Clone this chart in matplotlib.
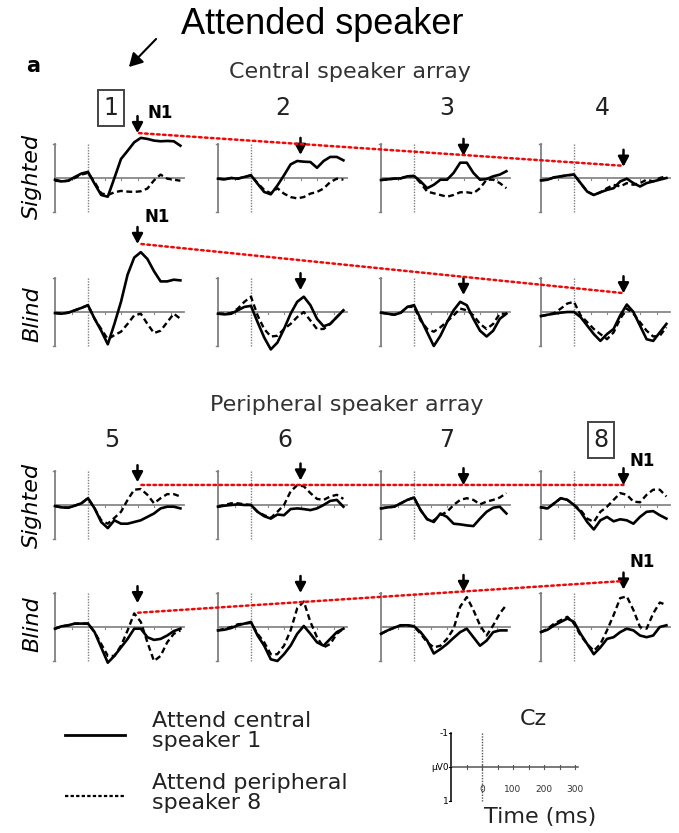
import matplotlib
matplotlib.use("Agg")
import matplotlib.pyplot as plt
from matplotlib.patches import ConnectionPatch, FancyArrowPatch

# time axis of every waveform (ms), amplitude in microvolts (negative up)
time_ms = [-100, -80, -60, -40, -20, 0, 20, 40, 60, 80, 100, 120, 140, 160, 180, 200, 220, 240, 260, 280]

# central speaker array, sighted (speakers 1-4)
central_sighted_solid = [
    [.05, .1, .08, -.03, -.13, -.18, .17, .5, .55, 0, -.56, -.8, -1.05, -1.18, -1.15, -1.1, -1.08, -1.09, -1.08, -.95],
    [.02, .04, 0, .02, -.03, -.08, .17, .41, .48, .22, -.08, -.4, -.5, -.48, -.47, -.3, -.5, -.62, -.62, -.52],
    [.06, .04, .02, .01, -.05, -.06, .1, .3, .2, .05, .05, -.15, -.45, -.45, -.15, .05, .03, -.05, -.1, -.2],
    [.07, .05, -.02, -.05, -.08, -.1, .15, .4, .5, .42, .35, .3, .1, .02, .15, .25, .15, .1, .05, 0],
]
central_sighted_dashed = [
    [.08, .1, .08, 0, -.1, -.15, .12, .45, .5, .42, .38, .4, .41, .39, .31, .07, -.1, .02, .05, .08],
    [.02, .04, 0, .02, -.03, -.08, .15, .35, .45, .3, .46, .56, .6, .56, .46, .41, .31, .12, .02, .05],
    [.06, .04, .02, .01, -.05, -.06, .15, .4, .45, .5, .55, .5, .42, .42, .45, .3, .05, .05, .15, .3],
    [.07, .05, -.02, -.05, -.08, -.1, .15, .4, .5, .42, .3, .2, .25, .15, .2, .15, .05, .1, 0, -.05],
]

# central speaker array, blind
central_blind_solid = [
    [.03, .05, .02, -.05, -.12, -.2, .2, .55, .95, .35, -.3, -1.1, -1.6, -1.76, -1.56, -1.2, -.9, -.9, -.95, -.93],
    [.05, .07, .05, -.05, -.15, -.18, .3, .75, 1.1, .9, .5, .05, -.3, -.45, -.2, .2, .42, .35, .15, -.05],
    [.02, .05, .08, .02, -.15, -.2, .2, .6, 1.0, .7, .3, -.05, -.3, -.2, .2, .55, .72, .55, .2, .05],
    [.12, .08, .05, .02, 0, 0, .15, .4, .65, .85, .65, .5, .1, -.22, 0, .4, .8, .85, .6, .35],
]
central_blind_dashed = [
    [.03, .05, .02, -.05, -.12, -.2, .2, .5, .8, .68, .58, .35, .1, .05, .35, .62, .55, .3, .05, .2],
    [.05, .05, .03, -.1, -.3, -.45, .1, .5, .72, .7, .5, .35, .15, 0, .25, .5, .5, .35, .15, -.05],
    [.02, .05, .08, .02, -.15, -.15, .25, .5, .58, .45, .28, .1, -.1, -.05, .1, .35, .5, .35, .05, .05],
    [.12, .08, .03, -.1, -.25, -.3, .1, .3, .5, .65, .8, .6, .2, -.1, .05, .3, .55, .72, .7, .45],
]

# peripheral speaker array, sighted (speakers 5-8)
peripheral_sighted_solid = [
    [.03, .07, .08, .02, -.05, -.2, .1, .5, .68, .45, .55, .55, .5, .45, .35, .25, .1, .05, .05, .1],
    [.05, .02, 0, -.02, 0, 0, .2, .33, .4, .28, .3, .12, .1, .12, .15, .1, 0, -.12, -.15, .05],
    [.1, .07, .05, -.05, -.15, -.22, .15, .42, .5, .25, .35, .55, .57, .6, .62, .4, .2, .08, .05, .25],
    [.07, .1, -.05, -.2, -.15, 0, .2, .5, .72, .45, .35, .48, .42, .45, .55, .35, .2, .18, .3, .4],
]
peripheral_sighted_dashed = [
    [.03, .07, .08, .02, -.05, -.2, .1, .45, .55, .38, .2, -.15, -.45, -.47, -.3, -.05, -.2, -.32, -.32, -.25],
    [.05, 0, -.05, -.05, -.02, 0, .2, .3, .38, .2, 0, -.4, -.58, -.55, -.35, -.18, -.15, -.25, -.3, -.18],
    [.1, .07, .05, -.05, -.15, -.22, .15, .42, .45, .3, .2, 0, -.15, -.2, -.15, -.02, -.1, -.15, -.22, -.35],
    [.07, .1, -.05, -.2, -.15, 0, .15, .4, .5, .2, .05, -.15, -.35, -.3, -.1, -.08, -.3, -.45, -.45, -.25],
]

# peripheral speaker array, blind
peripheral_blind_solid = [
    [.05, -.02, -.05, -.1, -.1, -.1, .15, .6, 1.05, .85, .6, .35, .05, .05, .3, .38, .35, .25, .12, .05],
    [.1, .08, .03, -.05, -.1, -.15, .25, .55, .95, 1.0, .8, .55, .2, -.03, .2, .45, .55, .35, .15, .05],
    [.2, .1, .02, -.05, -.05, -.02, .15, .4, .78, .65, .5, .32, .15, .05, .3, .55, .4, .15, .1, .1],
    [.15, .08, -.05, -.15, -.25, -.15, .2, .5, .8, .6, .35, .3, .15, .05, .1, .25, .3, .25, 0, -.05],
]
peripheral_blind_dashed = [
    [.05, -.02, -.05, -.1, -.1, -.1, .15, .5, .85, .85, .55, .1, -.4, -.15, .45, 1.0, .85, .45, .2, .1],
    [.1, .05, 0, -.08, -.1, -.12, .2, .45, .8, .8, .55, .1, -.55, -.75, -.15, .3, .6, .5, .2, .05],
    [.2, .1, .02, -.05, -.05, -.02, .2, .45, .6, .55, .35, .05, -.6, -.88, -.5, -.05, .25, -.05, -.4, -.65],
    [.15, .05, -.1, -.2, -.3, -.1, .25, .5, .7, .5, .1, -.35, -.85, -.9, -.5, 0, .05, -.4, -.72, -.65],
]

# N1 arrows (latency and tip amplitude) per panel
n1_latency = 150
central_sighted_n1 = [-1.32, -0.68, -0.65, -0.33]
central_blind_n1 = [-2.0, -0.64, -0.5, -0.55]
peripheral_sighted_n1 = [-0.67, -0.72, -0.58, -0.58]
peripheral_blind_n1 = [-0.7, -1.0, -1.03, -1.1]

# red dotted line that joins first and last panel of each row: (ms, uV)
central_sighted_link = [(155, -1.32), (148, -0.36)]
central_blind_link = [(162, -2.0), (145, -0.56)]
peripheral_sighted_link = [(162, -0.59), (150, -0.59)]
peripheral_blind_link = [(152, -0.42), (145, -1.35)]

speaker_top = ['1', '2', '3', '4']
speaker_bottom = ['5', '6', '7', '8']
scale_ticks = [0, 100, 200, 300]

W, H = 679, 833
fig = plt.figure(figsize=(W / 100, H / 100), dpi=100)
fig.patch.set_facecolor('white')
plt.rcParams['font.family'] = ['DejaVu Sans']


def fx(px):
    return px / W


def fy(py):
    return 1 - py / H


# pixel layout of the panels
col_axis_px = [55, 218, 381, 541]
row_base_px = [178, 312, 505, 627]
ms_px = 0.33      # pixels per ms
uv_px = 34.0      # pixels per microvolt
x_lo, x_hi = -115, 300
y_lim = 2.3


def make_panel(col, row):
    left = col_axis_px[col] + (x_lo + 100) * ms_px
    width = (x_hi - x_lo) * ms_px
    height = 2 * y_lim * uv_px
    top = row_base_px[row] - y_lim * uv_px
    ax = fig.add_axes([fx(left), fy(top + height), fx(width), height / H])
    ax.set_xlim(x_lo, x_hi)
    ax.set_ylim(y_lim, -y_lim)
    ax.axis('off')
    ax.patch.set_alpha(0)
    # axes of the ERP plot
    ax.plot([-100, -100], [-1, 1], color='#808080', lw=1.3)
    ax.plot([-107, -100], [-1, -1], color='#808080', lw=1)
    ax.plot([-107, -100], [1, 1], color='#808080', lw=1)
    ax.plot([0, 0], [-1, 1], color='#808080', lw=1, ls=(0, (1, 1)))
    ax.plot([-100, 290], [0, 0], color='#888888', lw=1.3)
    for tk in [-50, 50, 100, 150, 200, 250]:
        ax.plot([tk, tk], [0, 0.06], color='#888888', lw=0.8)
    return ax


rows = [
    (central_sighted_solid, central_sighted_dashed, central_sighted_n1, central_sighted_link),
    (central_blind_solid, central_blind_dashed, central_blind_n1, central_blind_link),
    (peripheral_sighted_solid, peripheral_sighted_dashed, peripheral_sighted_n1, peripheral_sighted_link),
    (peripheral_blind_solid, peripheral_blind_dashed, peripheral_blind_n1, peripheral_blind_link),
]

for r, (solid, dashed, n1, link) in enumerate(rows):
    axes_row = []
    for c in range(4):
        ax = make_panel(c, r)
        ax.plot(time_ms, dashed[c], color='black', lw=1.7, ls=(0, (2.5, 1.5)), clip_on=False)
        ax.plot(time_ms, solid[c], color='black', lw=1.9, clip_on=False)
        ax.annotate('', xy=(n1_latency, n1[c]), xytext=(n1_latency, n1[c] - 0.5),
                    arrowprops=dict(arrowstyle='-|>,head_length=0.6,head_width=0.32',
                                    color='black', lw=1.8, shrinkA=0, shrinkB=0),
                    annotation_clip=False)
        axes_row.append(ax)
    con = ConnectionPatch(xyA=link[0], coordsA='data', axesA=axes_row[0],
                          xyB=link[1], coordsB='data', axesB=axes_row[3],
                          color='red', lw=1.8, ls=(0, (1, 1.4)))
    fig.add_artist(con)

# titles and labels
fig.text(fx(322), fy(25), 'Attended speaker', fontsize=26, family='Liberation Sans',
         ha='center', va='center')
fig.add_artist(FancyArrowPatch((fx(158), fy(37)), (fx(127), fy(69)),
                               transform=fig.transFigure, arrowstyle='-|>,head_length=8,head_width=4.5',
                               color='black', lw=1.5, mutation_scale=1))
fig.text(fx(33), fy(66), 'a', fontsize=15, fontweight='bold', ha='center', va='center')
fig.text(fx(350), fy(72), 'Central speaker array', fontsize=16, color='#333333',
         ha='center', va='center')
fig.text(fx(347), fy(405), 'Peripheral speaker array', fontsize=16, color='#333333',
         ha='center', va='center')

top_num_x = [111, 283, 447, 602]
bot_num_x = [112, 285, 447, 601]
for i in range(4):
    box = None
    if i == 0:
        box = dict(boxstyle='square,pad=0.25', fc='white', ec='#444444', lw=1.4)
    fig.text(fx(top_num_x[i]), fy(108), speaker_top[i], fontsize=17, color='#222222',
             ha='center', va='center', bbox=box)
    box = None
    if i == 3:
        box = dict(boxstyle='square,pad=0.25', fc='white', ec='#444444', lw=1.4)
    fig.text(fx(bot_num_x[i]), fy(440), speaker_bottom[i], fontsize=17, color='#222222',
             ha='center', va='center', bbox=box)

for (px, py) in [(160, 113), (157, 217), (642, 461), (642, 562)]:
    fig.text(fx(px), fy(py), 'N1', fontsize=12, fontweight='bold', ha='center', va='center')

for label, py in [('Sighted', 176), ('Blind', 314), ('Sighted', 505), ('Blind', 624)]:
    fig.text(fx(32), fy(py), label, fontsize=16, style='italic', rotation=90,
             ha='center', va='center')

# legend of line styles
lg = fig.add_axes([0, 0, 1, 1])
lg.set_xlim(0, W)
lg.set_ylim(H, 0)
lg.axis('off')
lg.patch.set_alpha(0)
lg.plot([65, 125], [735, 735], color='black', lw=2)
lg.plot([65, 125], [796, 796], color='black', lw=1.6, ls=(0, (1.5, 1)))
fig.text(fx(152), fy(731), 'Attend central\nspeaker 1', fontsize=16, color='#222222',
         ha='left', va='center', linespacing=1.05)
fig.text(fx(152), fy(793), 'Attend peripheral\nspeaker 8', fontsize=16, color='#222222',
         ha='left', va='center', linespacing=1.05)

# calibration scale
sx_px = 0.31
sc = fig.add_axes([fx(451 - 40 * sx_px), fy(767 + 1.5 * uv_px), fx(460 * sx_px), 3 * uv_px / H])
sc.set_xlim(-140, 320)
sc.set_ylim(1.5, -1.5)
sc.axis('off')
sc.patch.set_alpha(0)
sc.plot([-100, -100], [-1, 1], color='black', lw=1.1)
sc.plot([0, 0], [-1, 1], color='#555555', lw=1, ls=(0, (1, 1)))
sc.plot([-100, 310], [0, 0], color='#555555', lw=1.1)
for tk in [-50, 0, 50, 100, 150, 200, 250, 300]:
    sc.plot([tk, tk], [-0.05, 0.05], color='#555555', lw=0.8)
for v in [-1, 0, 1]:
    sc.plot([-108, -100], [v, v], color='black', lw=0.8)
sc.text(-108, -1, '-1', fontsize=6.5, ha='right', va='center')
sc.text(-106, 0, 'µV0', fontsize=6.5, ha='right', va='center')
sc.text(-108, 1, '1', fontsize=6.5, ha='right', va='center')
for tk in scale_ticks:
    sc.text(tk, 0.65, str(tk), fontsize=6.5, ha='center', va='center', color='#333333')
sc.text(165, -1.4, 'Cz', fontsize=16, ha='center', va='center', color='#222222')
sc.text(188, 1.47, 'Time (ms)', fontsize=16, ha='center', va='center', color='#222222')

fig.savefig('out.png', dpi=100, facecolor='white')
